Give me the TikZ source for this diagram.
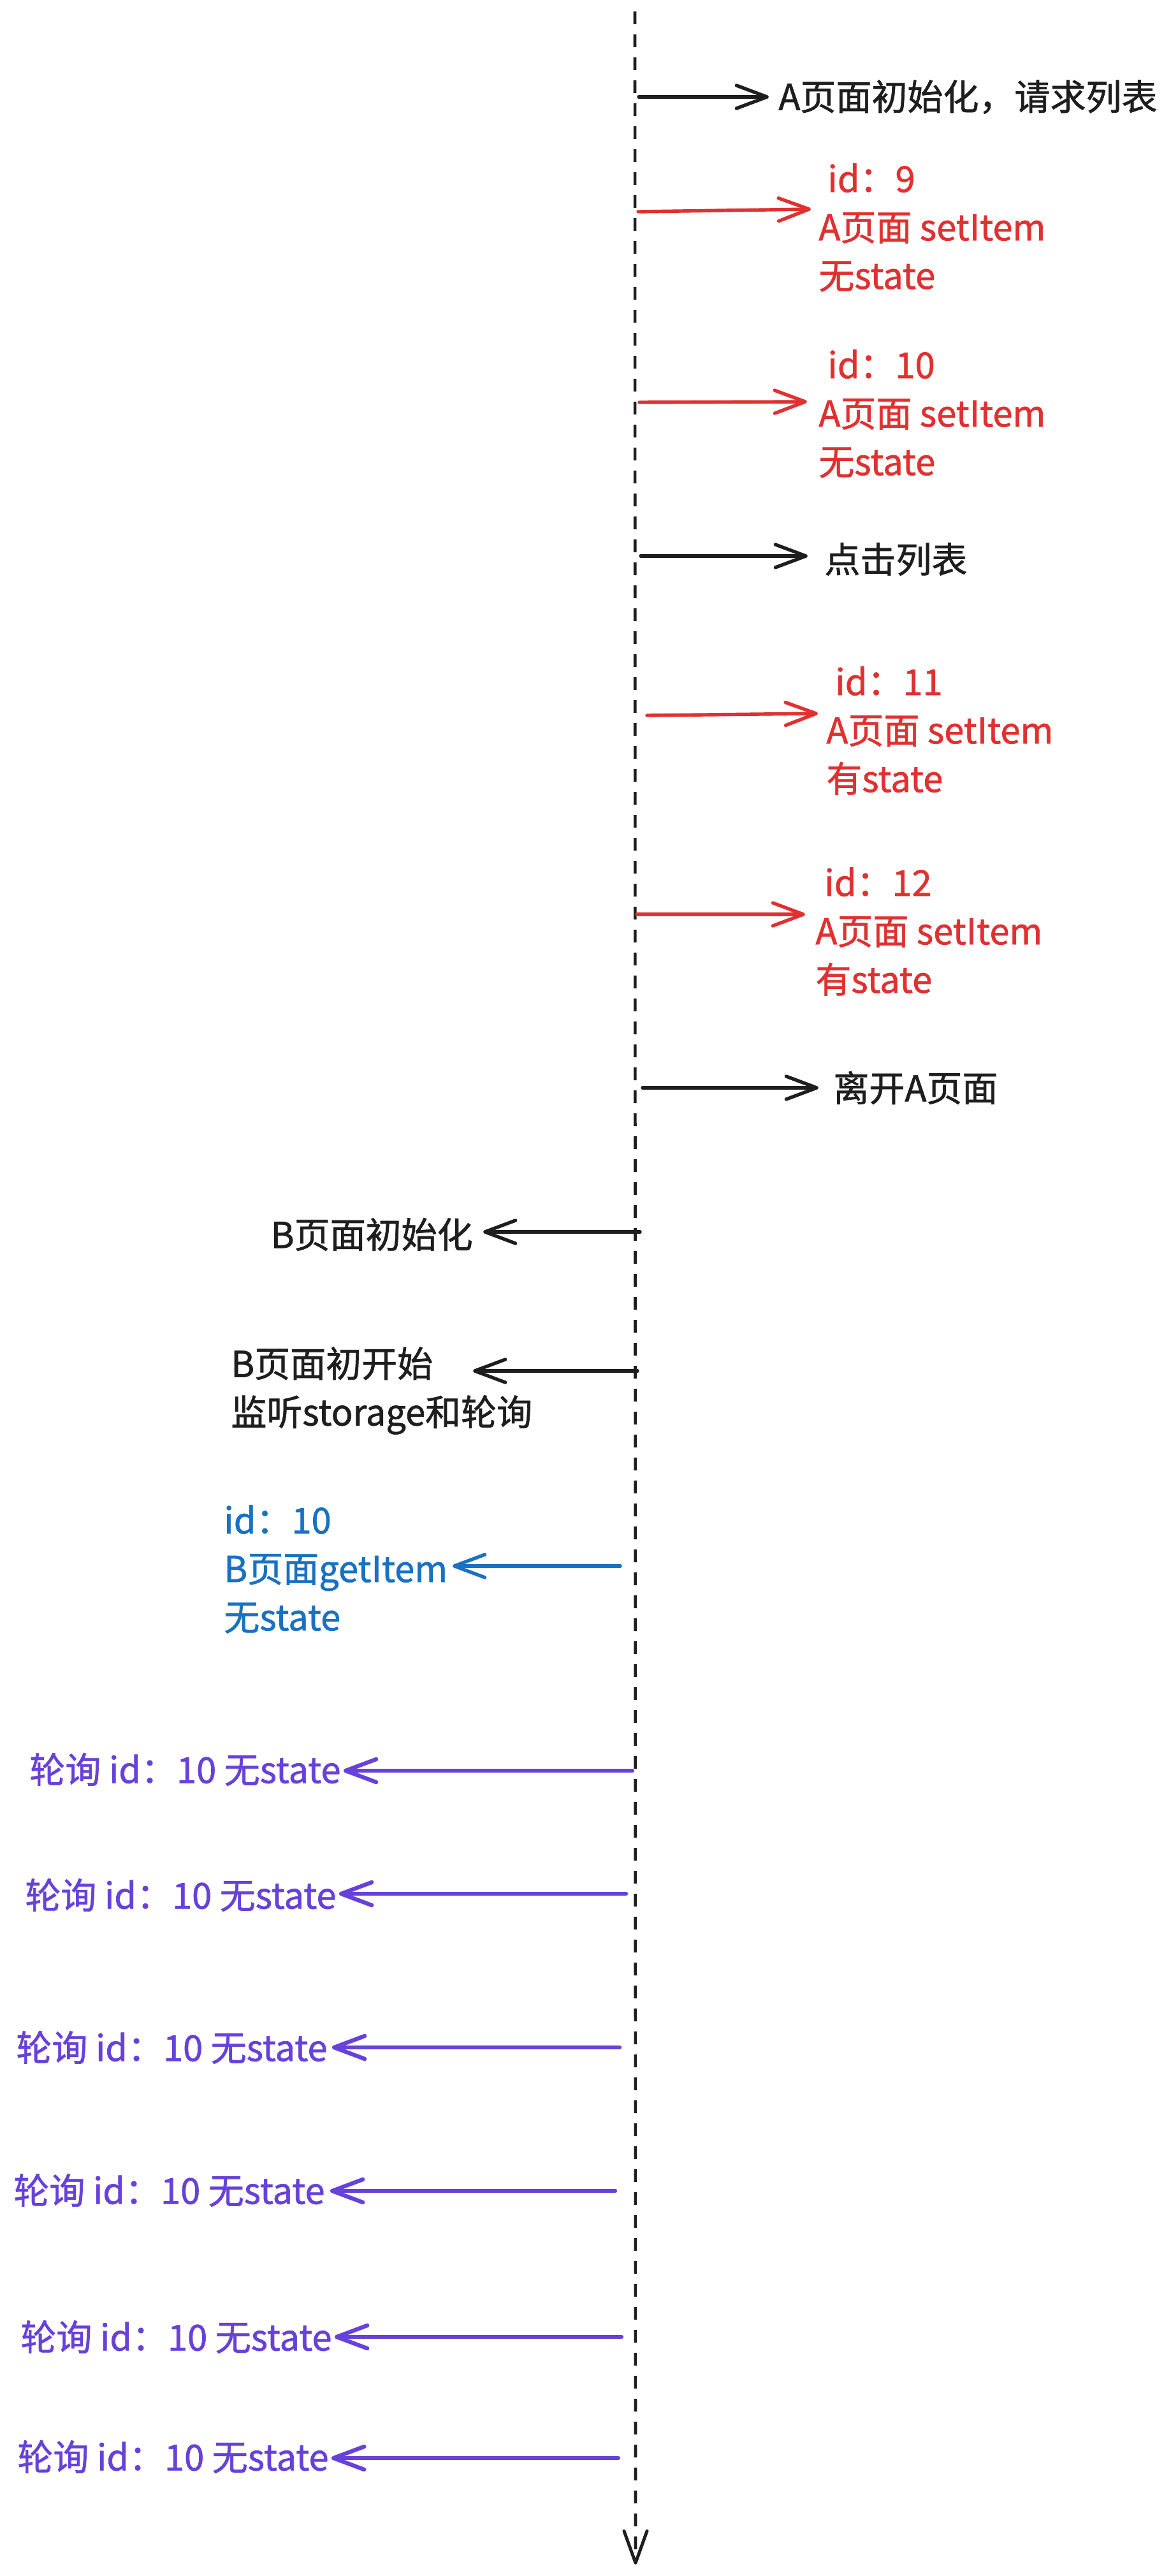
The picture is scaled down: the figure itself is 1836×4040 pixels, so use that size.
\documentclass[tikz,border=0pt]{standalone}
\usepackage{fontspec}
\setmainfont{Noto Sans CJK SC}[FakeBold=1.2]
\usetikzlibrary{arrows.meta}
\definecolor{ink}{HTML}{1E1E1E}
\definecolor{exred}{HTML}{E03131}
\definecolor{exblue}{HTML}{1971C2}
\definecolor{exviolet}{HTML}{6741D9}
\begin{document}
\begin{tikzpicture}[x=0.5pt,y=-0.5pt,
  lbl/.style={inner sep=0pt, font=\fontsize{28}{38}\selectfont, align=left},
  conn/.style={line width=2.7pt, line cap=round, line join=round, -{Straight Barb[length=24pt,width=18pt,round]}},
  poll/.style={conn, line width=3.2pt, draw=exviolet},
  lifeline/.style={draw=ink, line width=2.3pt, dash pattern=on 10pt off 8pt, -{Straight Barb[length=25pt,width=18pt,round,line width=2.5pt]}}
]
\fill[white] (0,0) rectangle (1836,4040);
\useasboundingbox (0,0) rectangle (1836,4040);

% lifeline
\coordinate (ltop) at (996,18);
\coordinate (lbot) at (997,4022);
\draw[lifeline] (ltop) -- (lbot);

% labels
\node[lbl, anchor=west, text=ink] (t1) at (1221,152) {A页面初始化，请求列表};
\node[lbl, anchor=west, text=exred] (t2) at (1284,357) {\hspace*{7pt}id：9\\A页面 setItem\\无state};
\node[lbl, anchor=west, text=exred] (t3) at (1284,649) {\hspace*{7pt}id：10\\A页面 setItem\\无state};
\node[lbl, anchor=west, text=ink] (t4) at (1293,877) {点击列表};
\node[lbl, anchor=west, text=exred] (t5) at (1296,1146) {\hspace*{7pt}id：11\\A页面 setItem\\有state};
\node[lbl, anchor=west, text=exred] (t6) at (1279,1461) {\hspace*{7pt}id：12\\A页面 setItem\\有state};
\node[lbl, anchor=west, text=ink] (t7) at (1307,1706) {离开A页面};
\node[lbl, anchor=east, text=ink] (t8) at (742,1936) {B页面初始化};
\node[lbl, anchor=west, text=ink] (t9) at (362,2181) {B页面初开始\\监听storage和轮询};
\node[lbl, anchor=west, text=exblue] (t10) at (351,2461) {id：10\\B页面getItem\\无state};
\node[lbl, anchor=west, text=exviolet] (p1) at (46,2775) {轮询 id：10 无state};
\node[lbl, anchor=west, text=exviolet] (p2) at (39,2972) {轮询 id：10 无state};
\node[lbl, anchor=west, text=exviolet] (p3) at (25,3211) {轮询 id：10 无state};
\node[lbl, anchor=west, text=exviolet] (p4) at (21,3435) {轮询 id：10 无state};
\node[lbl, anchor=west, text=exviolet] (p5) at (32,3665) {轮询 id：10 无state};
\node[lbl, anchor=west, text=exviolet] (p6) at (27,3853) {轮询 id：10 无state};

% arrow end points
\coordinate (s1) at (1002,152);  \coordinate (e1) at (1206,152);
\coordinate (s2) at (1001,332);  \coordinate (e2) at (1272,328);
\coordinate (s3) at (1003,631);  \coordinate (e3) at (1266,630);
\coordinate (s4) at (1005,872);  \coordinate (e4) at (1267,872);
\coordinate (s5) at (1015,1122); \coordinate (e5) at (1283,1119);
\coordinate (s6) at (999,1434);  \coordinate (e6) at (1263,1434);
\coordinate (s7) at (1008,1706); \coordinate (e7) at (1284,1706);
\coordinate (s8) at (1004,1932); \coordinate (e8) at (758,1932);
\coordinate (s9) at (1000,2150); \coordinate (e9) at (742,2150);
\coordinate (s10) at (973,2456); \coordinate (e10) at (710,2456);
\coordinate (s11) at (992,2777); \coordinate (e11) at (539,2777);
\coordinate (s12) at (982,2970); \coordinate (e12) at (532,2970);
\coordinate (s13) at (972,3211); \coordinate (e13) at (521,3211);
\coordinate (s14) at (965,3436); \coordinate (e14) at (518,3436);
\coordinate (s15) at (975,3665); \coordinate (e15) at (525,3665);
\coordinate (s16) at (970,3855); \coordinate (e16) at (520,3855);

% arrows
\draw[conn, draw=ink] (s1) -- (e1);
\draw[conn, draw=exred] (s2) -- (e2);
\draw[conn, draw=exred] (s3) -- (e3);
\draw[conn, draw=ink] (s4) -- (e4);
\draw[conn, draw=exred] (s5) -- (e5);
\draw[conn, draw=exred] (s6) -- (e6);
\draw[conn, draw=ink] (s7) -- (e7);
\draw[conn, draw=ink] (s8) -- (e8);
\draw[conn, draw=ink] (s9) -- (e9);
\draw[conn, draw=exblue] (s10) -- (e10);
\draw[poll] (s11) -- (e11);
\draw[poll] (s12) -- (e12);
\draw[poll] (s13) -- (e13);
\draw[poll] (s14) -- (e14);
\draw[poll] (s15) -- (e15);
\draw[poll] (s16) -- (e16);
\end{tikzpicture}
\end{document}
